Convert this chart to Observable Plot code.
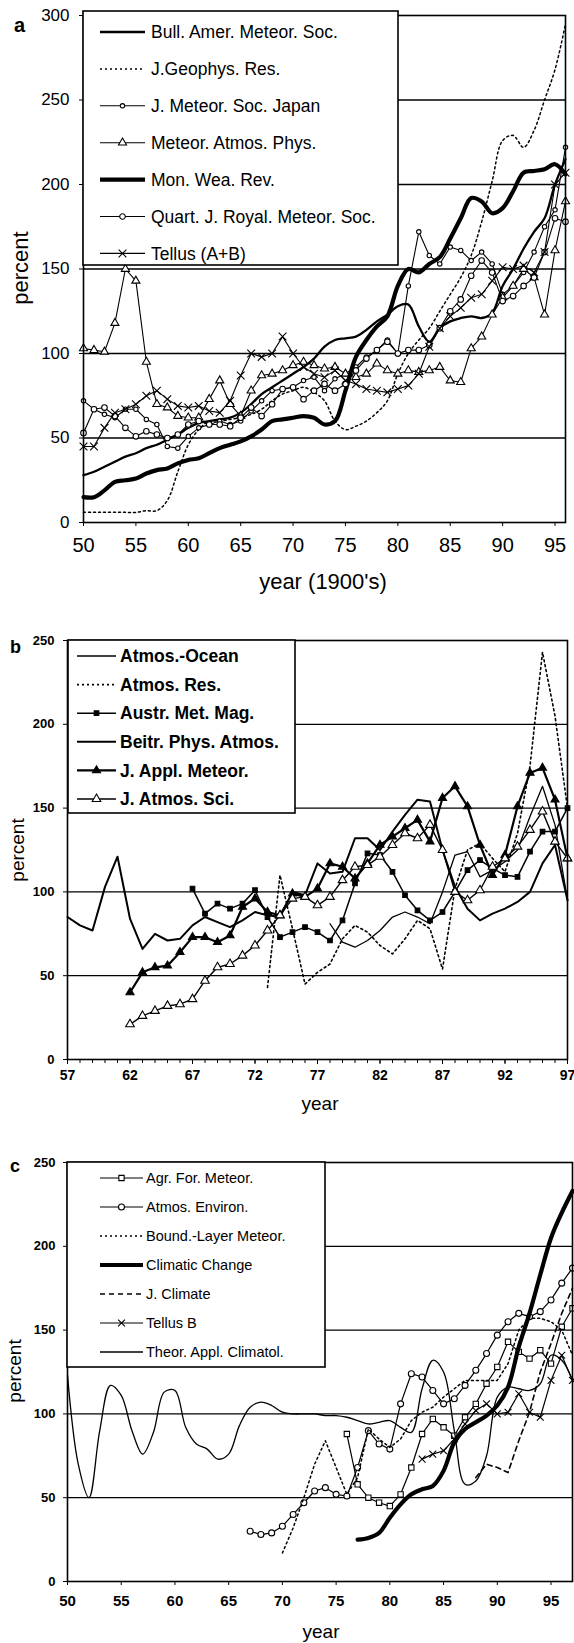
<!DOCTYPE html>
<html><head><meta charset="utf-8">
<script src="https://cdn.jsdelivr.net/npm/d3@7"></script>
<script src="https://cdn.jsdelivr.net/npm/@observablehq/plot@0.6"></script>
<style>
body{margin:0;background:#fff;}
#page{position:relative;width:574px;height:1643px;overflow:hidden;background:#fff;}
</style></head><body><div id="page"></div>
<script>
// ================= DATA =================
// Panel a (years 1950-1996), percent
const aStartYear = 50;
const aNames = ["Bull. Amer. Meteor. Soc.", "J.Geophys. Res.", "J. Meteor. Soc. Japan", "Meteor. Atmos. Phys.", "Mon. Wea. Rev.", "Quart. J. Royal. Meteor. Soc.", "Tellus (A+B)"];
const aBull    = [28,30,33,36,39,41,44,46,49,52, 56,59,60,61,62,65,70,76,80,84, 88,92,97,104,108,109,110,114,119,123, 128,129,116,107,115,119,121,122,121,124, 140,150,162,172,180,200,215];
const aJGeophys= [6,6,6,6,6,6,7,7,13,30, 46,55,60,60,61,62,64,67,72,76, 78,80,77,72,60,55,57,60,65,72, 88,100,108,115,125,135,145,158,178,202, 226,229,222,232,250,268,295];
const aJMSJ    = [72,67,64,62,67,67,61,58,45,44, 51,56,58,60,58,60,66,72,78,79, 80,84,86,78,85,88,92,98,102,108, 100,140,172,158,153,163,161,155,160,153, 135,140,148,160,175,185,222];
const aMAP     = [103,102,101,118,150,143,95,70,68,63, 62,62,73,84,70,63,78,87,88,90, 93,95,93,91,92,88,86,88,94,90, 88,90,89,90,92,84,83,103,110,123, 133,140,150,145,123,161,190];
const aMWR     = [15,15,19,24,25,26,29,31,32,35, 37,38,41,44,46,48,51,55,60,61, 62,63,62,58,60,78,98,108,116,122, 140,150,148,153,157,168,180,192,190,183, 186,196,207,208,209,212,206];
const aQJRMS   = [53,67,68,63,56,51,54,52,50,52, 58,60,58,58,57,62,68,63,70,79, 80,73,78,82,78,82,90,97,102,107, 100,102,102,105,115,125,132,146,155,148, 131,134,140,145,160,180,178];
const aTellus  = [45,45,56,65,67,70,75,78,73,69, 68,69,66,65,72,87,100,98,100,110, 100,92,88,86,90,84,82,79,78,77, 79,81,88,104,115,122,127,133,135,143, 151,150,152,148,160,200,207];
const aXTicks = [50,55,60,65,70,75,80,85,90,95];
const aYTicks = [0,50,100,150,200,250,300];
const aGrid = [50,100,150,200,250];

// Panel b (years 1957-1997)
const bNames = ["Atmos.-Ocean", "Atmos. Res.", "Austr. Met. Mag.", "Beitr. Phys. Atmos.", "J. Appl. Meteor.", "J. Atmos. Sci."];
const bStarts = [78, 73, 67, 57, 62, 62];
const bAtmosOcean = [81,70,67,71,77,85,88,85,81,100, 122,124,109,113,118,125,145,163,140,95];
const bAtmosRes   = [43,110,78,45,52,57,72,80,76,68, 63,72,83,78,54,102,125,129,120,112, 135,175,243,205,150];
const bAustr      = [102,87,93,90,93,101,85,73,76,79, 76,71,83,105,123,122,112,98,89,83, 88,100,113,119,114,110,109,124,136,136, 150];
const bBeitr      = [85,80,77,103,121,84,66,75,71,72, 80,85,82,79,83,88,86,85,100,98, 117,111,112,132,132,125,136,146,155,154, 125,103,90,83,87,90,94,100,117,128, 95];
const bJAppl      = [40,52,55,56,64,73,73,70,74,91, 96,88,86,99,97,102,117,115,108,117, 128,133,138,143,130,156,163,151,128,110, 122,151,171,174,155,120];
const bJAtmos     = [21,26,29,32,33,36,47,55,57,62, 68,77,86,96,97,92,97,107,115,116, 121,128,135,132,140,125,100,95,101,115, 120,127,137,148,130,120];
const bXTicks = [57,62,67,72,77,82,87,92,97];
const bXMinor = d3.range(57, 98);
const bYTicks = [0,50,100,150,200,250];
const bGrid = [50,100,150,200];

// Panel c (years 1950-1997)
const cNames = ["Agr. For. Meteor.", "Atmos. Environ.", "Bound.-Layer Meteor.", "Climatic Change", "J. Climate", "Tellus B", "Theor. Appl. Climatol."];
const cStarts = [76, 67, 70, 77, 88, 83, 50];
const cAgr     = [88,58,50,47,45,52,68,88,97,92, 87,98,106,118,128,143,137,133,138,130, 152,163];
const cAtmosEnv= [30,28,29,33,40,47,54,56,52,51, 68,90,82,79,106,124,122,114,106,109, 117,126,136,147,155,160,158,161,168,178, 187];
const cBLM     = [17,32,50,70,84,68,52,62,91,85, 80,85,96,101,104,110,115,120,120,120, 120,130,150,157,157,155,150,135];
const cClim    = [25,26,29,38,46,52,55,57,66,83, 91,95,99,105,116,140,160,183,205,220, 233];
const cJClim   = [62,70,68,65,84,101,125,142,160,175];
const cTellusB = [73,76,78,85,94,102,106,100,101,112, 101,98,120,135,120];
const cTheor   = [123,70,50,90,117,111,90,76,89,113, 114,92,82,79,73,76,93,104,107,105, 101,100,100,100,99,99,98,96,94,95, 96,92,89,115,132,125,90,58,60,75, 110,116,115,114,118,135,132,120];
const cXTicks = [50,55,60,65,70,75,80,85,90,95];
const cYTicks = [0,50,100,150,200,250];
const cGrid = [50,100,150,200];

// ================= STYLES =================
const FONT = '"Liberation Sans", Arial, Helvetica, sans-serif';
const aStyles = [
  {sw:2.3, curve:"catmull-rom"},
  {sw:1.5, dash:"2,3", curve:"catmull-rom"},
  {sw:1.1, symbol:"circle", r:2.2, fill:"white"},
  {sw:1.1, symbol:"triangle", r:3, fill:"white"},
  {sw:4.2, curve:"catmull-rom"},
  {sw:1.1, symbol:"circle", r:2.8, fill:"white"},
  {sw:1.1, symbol:"times", r:3.6, fill:"none"}
];
const bStyles = [
  {sw:1.3},
  {sw:1.6, dash:"2,3"},
  {sw:1.5, symbol:"square", r:2.6, fill:"black"},
  {sw:2.0},
  {sw:2.2, symbol:"triangle", r:3, fill:"black"},
  {sw:1.4, symbol:"triangle", r:3.2, fill:"white"}
];
const cStyles = [
  {sw:1.2, symbol:"square", r:3, fill:"white"},
  {sw:1.2, symbol:"circle", r:3, fill:"white"},
  {sw:1.5, dash:"2,3"},
  {sw:4.2, curve:"catmull-rom"},
  {sw:1.6, dash:"5,4"},
  {sw:1.2, symbol:"times", r:3.2, fill:"none"},
  {sw:1.3, curve:"catmull-rom"}
];

function rowsOf(name, start, values) {
  return values.map((v, i) => ({name, year: start + i, value: v}));
}
function seriesMarks(rows, st) {
  const m = [Plot.line(rows, {x:"year", y:"value", stroke:"#000", strokeWidth:st.sw,
    strokeDasharray: st.dash, curve: st.curve || "linear"})];
  if (st.symbol) m.push(Plot.dot(rows, {x:"year", y:"value", symbol:st.symbol, r:st.r,
    fill:st.fill, stroke:"#000", strokeWidth:1.1}));
  return m;
}

const page = document.getElementById("page");
function panel(o) {
  const marks = [Plot.ruleY(o.grid, {stroke:"#000", strokeWidth:1.3})];
  o.series.forEach((rows, i) => marks.push(...seriesMarks(rows, o.styles[i])));
  if (o.minor) marks.push(Plot.axisX({ticks:o.minor, tickSize:4, tickFormat:() => "", label:null}));
  marks.push(Plot.axisX({ticks:o.xTicks, tickSize:o.xts, tickPadding:o.xtp, fontSize:o.fx, label:null, tickFormat:d => String(d)}));
  marks.push(Plot.axisY({ticks:o.yTicks, tickSize:o.yts, tickPadding:o.ytp, fontSize:o.fy, label:null, tickFormat:d => String(d)}));
  marks.push(Plot.frame({stroke:"#000", strokeWidth:1.6}));
  const svg = Plot.plot({
    width:574, height:o.height,
    marginTop:o.mt, marginBottom:o.mb, marginLeft:o.ml, marginRight:o.mr,
    x:{domain:o.xDomain}, y:{domain:o.yDomain},
    style:{fontFamily:FONT, fontWeight:o.bold ? "bold" : "normal", background:"transparent", color:"#000", overflow:"visible"},
    marks
  });
  svg.style.position = "absolute"; svg.style.left = "0px"; svg.style.top = o.top + "px";
  page.appendChild(svg);
}

// Panel a
const aSeriesData = [aBull, aJGeophys, aJMSJ, aMAP, aMWR, aQJRMS, aTellus];
panel({top:0, height:570, mt:15, mb:48, ml:83, mr:9, xDomain:[50,96], yDomain:[0,300],
  xTicks:aXTicks, yTicks:aYTicks, grid:aGrid, xts:4, xtp:11, yts:4, ytp:10, fx:20, fy:17,
  series:aSeriesData.map((v,i) => rowsOf(aNames[i], aStartYear, v)), styles:aStyles});

// Panel b
const bSeriesData = [bAtmosOcean, bAtmosRes, bAustr, bBeitr, bJAppl, bJAtmos];
panel({top:600, height:490, mt:40, mb:31, ml:67, mr:7, xDomain:[57,97], yDomain:[0,250],
  xTicks:bXTicks, minor:bXMinor, yTicks:bYTicks, grid:bGrid, xts:5, xtp:6, yts:4, ytp:9, fx:14, fy:13, bold:true,
  series:bSeriesData.map((v,i) => rowsOf(bNames[i], bStarts[i], v)), styles:bStyles});

// Panel c
const cSeriesData = [cAgr, cAtmosEnv, cBLM, cClim, cJClim, cTellusB, cTheor];
panel({top:1120, height:500, mt:42, mb:39, ml:67, mr:2, xDomain:[50,97], yDomain:[0,250],
  xTicks:cXTicks, yTicks:cYTicks, grid:cGrid, xts:4, xtp:10, yts:4, ytp:8, fx:15, fy:13, bold:true,
  series:cSeriesData.map((v,i) => rowsOf(cNames[i], cStarts[i], v)), styles:cStyles});

// ================= OVERLAY: labels & legends =================
const ov = d3.select(page).append("svg").attr("width",574).attr("height",1643)
  .style("position","absolute").style("left","0px").style("top","0px").style("font-family", FONT);

function txt(x, y, s, size, weight, anchor, rot) {
  const t = ov.append("text").text(s).attr("font-size", size).attr("font-weight", weight || "normal")
    .attr("text-anchor", anchor || "start").attr("fill", "#000");
  if (rot) t.attr("transform", `translate(${x},${y}) rotate(-90)`);
  else t.attr("x", x).attr("y", y);
}
// panel letters
txt(14, 32, "a", 20, "bold");
txt(10, 653, "b", 18, "bold");
txt(10, 1172, "c", 18, "bold");
// axis titles
txt(28, 268, "percent", 22, "normal", "middle", true);
txt(323, 589, "year (1900's)", 22, "normal", "middle");
txt(24, 850, "percent", 19, "normal", "middle", true);
txt(320, 1110, "year", 19, "normal", "middle");
txt(21, 1371, "percent", 19, "normal", "middle", true);
txt(321, 1638, "year", 19, "normal", "middle");

const symMap = {circle:d3.symbolCircle, triangle:d3.symbolTriangle, square:d3.symbolSquare, times:d3.symbolTimes};
function legend(box, rows0, step, x1, x2, tx, fsize, fweight, names, styles) {
  ov.append("rect").attr("x", box[0]).attr("y", box[1]).attr("width", box[2]).attr("height", box[3])
    .attr("fill", "white").attr("stroke", "#000").attr("stroke-width", 1.6);
  names.forEach((n, i) => {
    const y = rows0 + i * step, st = styles[i];
    ov.append("line").attr("x1", x1).attr("x2", x2).attr("y1", y).attr("y2", y)
      .attr("stroke", "#000").attr("stroke-width", st.sw).attr("stroke-dasharray", st.dash || null);
    if (st.symbol) {
      ov.append("path").attr("d", d3.symbol(symMap[st.symbol], Math.PI * st.r * st.r)())
        .attr("transform", `translate(${(x1 + x2) / 2},${y})`)
        .attr("fill", st.fill).attr("stroke", "#000").attr("stroke-width", 1.1);
    }
    ov.append("text").attr("x", tx).attr("y", y).attr("dy", "0.35em").text(n)
      .attr("font-size", fsize).attr("font-weight", fweight);
  });
}
legend([83, 11, 315, 254], 32, 36.9, 100, 145, 151, 17.5, "normal", aNames, aStyles);
legend([68, 640, 227, 173], 656, 28.6, 77, 116, 120, 17.5, "bold", bNames, bStyles);
legend([67, 1162, 258, 205], 1178, 29, 100, 143, 146, 14.5, "normal", cNames, cStyles);
</script></body></html>
